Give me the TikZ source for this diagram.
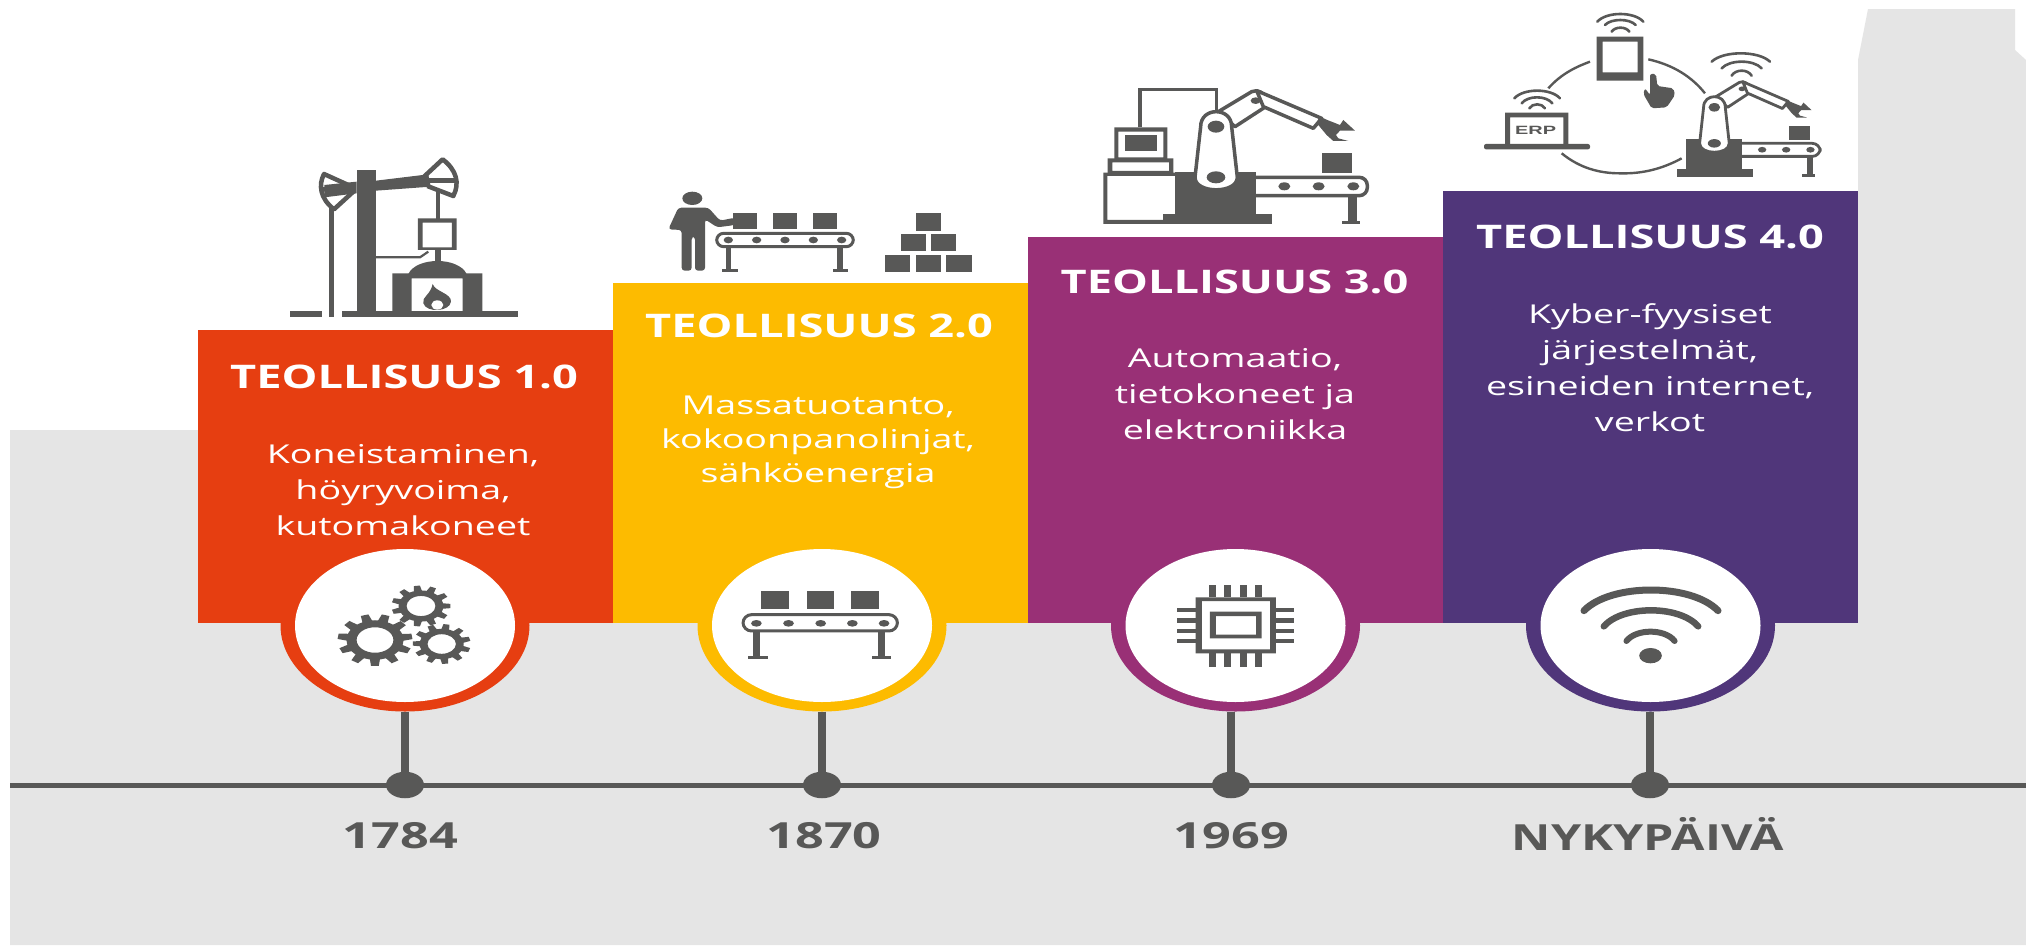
\documentclass[tikz,border=0pt]{standalone}
\usepackage{fontspec}
\setmainfont{Open Sans}
\newfontfamily\erpfont{Liberation Sans}
\usetikzlibrary{shapes.geometric}
\definecolor{ink}{HTML}{585857}
\definecolor{pale}{HTML}{E5E5E5}
\definecolor{cone}{HTML}{E63E11}
\definecolor{ctwo}{HTML}{FDBB00}
\definecolor{cthree}{HTML}{993076}
\definecolor{cfour}{HTML}{50367A}
\tikzset{
  title/.style={text=white,font=\fontsize{32.5}{36}\selectfont\bfseries,xscale=1.39,transform shape,inner sep=0pt},
  body/.style={text=white,font=\fontsize{26}{36}\selectfont,xscale=1.445,transform shape,align=center,inner sep=0pt},
  year/.style={text=ink,font=\fontsize{36}{40}\selectfont\bfseries,xscale=1.4,transform shape,inner sep=0pt},
  ring/.style={ellipse,minimum width=249pt,minimum height=172pt,inner sep=0pt},
  disc/.style={ellipse,fill=white,minimum width=220pt,minimum height=153pt,inner sep=0pt},
  dot/.style={ellipse,fill=ink,minimum width=38pt,minimum height=26.5pt,inner sep=0pt},
  stem/.style={draw=ink,line width=7.5pt},
  axis/.style={draw=ink,line width=5pt},
  wave/.style={draw=ink,line cap=round,fill=none},
}
% gear: centre, radii, teeth, start angle
\newcommand\gearicon[6]{%
  \begin{scope}[shift={(#1,#2)},x=#3pt,y=#4pt]
    \fill[ink,even odd rule] (0,0) circle[radius=.76] (0,0) circle[radius=.49];
    \foreach \i in {1,...,#5}{%
      \pgfmathsetmacro\ang{#6+360*\i/#5}%
      \fill[ink] ({\ang-11}:.72) -- ({\ang-6}:1) -- ({\ang+6}:1) -- ({\ang+11}:.72) -- cycle;
    }
  \end{scope}}
% arch of a signal: left x, right x, end y, top y, line width
\newcommand\signal[5]{\draw[wave,line width=#5] (#1,#3) .. controls ({#1+.2*(#2-#1)},{#3+1.3333*(#4-#3)}) and ({#2-.2*(#2-#1)},{#3+1.3333*(#4-#3)}) .. (#2,#3);}
% robot cell, drawn in the coordinates of the third icon
\newcommand\robotcell[1]{%
  \fill[ink] (285,305) rectangle (527,462);
  \fill[ink] (250,432) rectangle (575,462);
  \draw[ink,line width=#1,rounded corners=8pt] (527,322) -- (862,322) -- (862,377) -- (527,377);
  \foreach \x in {613,716,820}{\fill[ink] (\x,349) circle[x radius=18,y radius=12];}
  \fill[ink] (805,377) rectangle (830,458);
  \fill[ink] (785,453) rectangle (840,462);
  \fill[ink] (727,248) rectangle (817,308);
  \draw[ink,fill=white,line width=#1,line join=round] (415,125) -- (515,65) .. controls (535,58) and (550,62) .. (565,105) -- (465,170) -- cycle;
  \draw[ink,fill=white,line width=#1,line join=round] (530,62) -- (725,145) -- (700,175) -- (550,110) -- cycle;
  \fill[ink] (527,92) circle[x radius=15,y radius=10];
  \fill[ink] (720,140) -- (742,150) -- (780,165) -- (790,150) -- (825,182) -- (780,182) -- (768,195) -- (775,205) -- (805,213) -- (760,213) -- (740,195) -- (715,165) -- (698,178) -- cycle;
  \draw[ink,fill=white,line width=#1,line join=round] (362,170) .. controls (362,110) and (455,110) .. (455,170) -- (472,322) .. controls (472,372) and (345,372) .. (345,322) -- cycle;
  \fill[ink] (408,170) circle[x radius=25,y radius=18];
  \fill[ink] (408,322) circle[x radius=28,y radius=18];
}
\begin{document}
\begin{tikzpicture}[x=1pt,y=-1pt]
\useasboundingbox (0,0) rectangle (2026,945);
\fill[white] (0,0) rectangle (2026,945);
% backdrop
\fill[pale] (10,430) -- (1858,430) -- (1858,60) -- (1868,9) -- (2015,9) -- (2015,50) -- (2026,60) -- (2026,945) -- (10,945) -- cycle;
% columns
\fill[cone] (198,330) rectangle (613,623);
\fill[ctwo] (613,283) rectangle (1028,623);
\fill[cthree] (1028,237) rectangle (1443,623);
\fill[cfour] (1443,191) rectangle (1858,623);
% timeline
\coordinate (axisL) at (10,785);
\coordinate (axisR) at (2026,785);
\draw[axis] (axisL) -- (axisR);
% rings
\node[ring,fill=cone] (r1) at (405,625.5) {};
\node[ring,fill=ctwo] (r2) at (822,625.5) {};
\node[ring,fill=cthree] (r3) at (1235.5,625.5) {};
\node[ring,fill=cfour] (r4) at (1650.5,625.5) {};
% repaint the columns' lower band so only the lower half of each ring shows
\fill[cone] (198,540) rectangle (613,623);
\fill[ctwo] (613,540) rectangle (1028,623);
\fill[cthree] (1028,540) rectangle (1443,623);
\fill[cfour] (1443,540) rectangle (1858,623);
\node[disc] (c1) at (405,625.5) {};
\node[disc] (c2) at (822,625.5) {};
\node[disc] (c3) at (1235.5,625.5) {};
\node[disc] (c4) at (1650.5,625.5) {};
% dots and stems
\node[dot] (d1) at (405,785) {};
\node[dot] (d2) at (822,785) {};
\node[dot] (d3) at (1231,785) {};
\node[dot] (d4) at (1650,785) {};
\draw[stem] (d1 |- r1.south) -- (d1);
\draw[stem] (d2 |- r2.south) -- (d2);
\draw[stem] (d3 |- r3.south) -- (d3);
\draw[stem] (d4 |- r4.south) -- (d4);
% titles
\node[title] (t1) at (404,376.5) {TEOLLISUUS 1.0};
\node[title] (t2) at (819,325.5) {TEOLLISUUS 2.0};
\node[title] (t3) at (1234.5,281.5) {TEOLLISUUS 3.0};
\node[title] (t4) at (1650,236.5) {TEOLLISUUS 4.0};
% descriptions
\node[body] (b1) at (403,490) {Koneistaminen,\\höyryvoima,\\kutomakoneet};
\node[body,font=\fontsize{26}{34}\selectfont] (b2) at (818,442) {Massatuotanto,\\kokoonpanolinjat,\\sähköenergia};
\node[body] (b3) at (1235,394) {Automaatio,\\tietokoneet ja\\elektroniikka};
\node[body] (b4) at (1650,368) {Kyber-fyysiset\\järjestelmät,\\esineiden internet,\\verkot};
% years
\node[year] (y1) at (400.5,836) {1784};
\node[year] (y2) at (824,836) {1870};
\node[year] (y3) at (1231.5,836) {1969};
\node[year,xscale=0.96] (y4) at (1648,834) {NYKYPÄIVÄ};
% gears
\gearicon{375}{640}{37.5}{26}{11}{8}
\gearicon{421}{606}{29.5}{20.5}{11}{0}
\gearicon{441.7}{644}{29}{20}{11}{15}
% conveyor in circle 2
\begin{scope}[shift={(260,540)},x=0.4464pt,y=-0.3333pt]
  \foreach \x in {1123,1225,1325}{\fill[ink] (\x,153) rectangle (\x+61,208);}
  \draw[ink,line width=3pt,rounded corners=8.5pt] (1082,224) rectangle (1428,273);
  \foreach \x in {1112,1184,1256,1327,1398}{\fill[ink] (\x,250) circle[x radius=12,y radius=10];}
  \fill[ink] (1105,273) rectangle (1120,352);
  \fill[ink] (1385,273) rectangle (1400,352);
  \fill[ink] (1093,348) rectangle (1137,356);
  \fill[ink] (1372,348) rectangle (1414,356);
\end{scope}
% chip in circle 3
\begin{scope}[shift={(1080,540)},x=0.4719pt,y=-0.3333pt]
  \fill[ink,even odd rule] (245,172) rectangle (415,340) (258,183) rectangle (403,328);
  \fill[ink,even odd rule] (275,215) rectangle (385,295) (288,228) rectangle (373,284);
  \foreach \x in {273,306,339,371}{\fill[ink] (\x,135) rectangle (\x+15,172); \fill[ink] (\x,340) rectangle (\x+15,380);}
  \foreach \y in {204,235,266,297}{\fill[ink] (205,\y) rectangle (245,\y+13); \fill[ink] (415,\y) rectangle (453,\y+13);}
\end{scope}
% wifi in circle 4
\begin{scope}[shift={(1080,540)},x=0.4719pt,y=-0.3333pt]
  \signal{1068}{1352}{212}{150}{7pt}
  \signal{1110}{1310}{259}{211}{6.5pt}
  \signal{1158}{1260}{303}{275}{6pt}
  \fill[ink] (1209,347) circle[x radius=24,y radius=23];
\end{scope}
% icon 1: beam engine and furnace
\begin{scope}[shift={(190,140)},x=0.3333pt,y=-0.3333pt]
  \fill[ink] (300,514) rectangle (397,532);
  \fill[ink] (455,514) rectangle (985,532);
  \fill[ink] (418,205) rectangle (432,532);
  \fill[ink] (500,90) rectangle (558,520);
  \fill[ink] (403,135) -- (500,125) -- (500,160) -- (403,172) -- cycle;
  \fill[ink] (558,122) -- (715,103) -- (722,140) -- (558,152) -- cycle;
  \draw[ink,line width=4.5pt,line join=round] (475,135) -- (402,102) .. controls (385,135) and (390,175) .. (432,208) -- (490,155);
  \draw[ink,line width=4.5pt] (397,148) -- (480,145);
  \draw[ink,line width=4.5pt,line join=round] (700,112) -- (758,58) .. controls (800,90) and (810,130) .. (790,168) -- (712,138);
  \draw[ink,line width=4.5pt] (715,122) -- (803,122);
  \fill[ink] (738,150) rectangle (750,238);
  \fill[ink,even odd rule] (684,235) rectangle (800,330) (698,248) rectangle (786,322);
  \draw[ink,line width=2.2pt] (558,352) -- (690,352) -- (715,335);
  \fill[ink] (735,330) rectangle (752,370);
  \fill[ink] (655,402) .. controls (680,350) and (805,350) .. (830,402) -- cycle;
  \fill[ink,even odd rule] (607,400) rectangle (877,520) (665,415) rectangle (818,515);
  \fill[ink] (728,432) .. controls (735,455) and (785,460) .. (783,485) .. controls (780,515) and (710,520) .. (700,490) .. controls (695,470) and (722,465) .. (728,432) -- cycle;
  \fill[white] (742,495) circle[x radius=18,y radius=14];
\end{scope}
% icon 2: worker, conveyor, pile
\begin{scope}[shift={(640,170)},x=0.3333pt,y=-0.3333pt]
  \fill[ink] (157,85) circle[x radius=30,y radius=20];
  \fill[ink,rounded corners=3pt] (115,113) -- (205,113) -- (240,152) -- (285,143) -- (285,165) -- (232,172) -- (195,148) -- (195,302) -- (165,302) -- (165,200) -- (155,200) -- (155,302) -- (125,302) -- (125,180) -- (85,178) -- cycle;
  \foreach \x in {280,400,520}{\fill[ink] (\x,128) rectangle (\x+72,177);}
  \draw[ink,line width=3pt,rounded corners=7pt] (230,190) rectangle (640,230);
  \foreach \x in {265,350,435,520,605}{\fill[ink] (\x,210) circle[x radius=14,y radius=10];}
  \fill[ink] (258,230) rectangle (272,300);
  \fill[ink] (592,230) rectangle (608,300);
  \fill[ink] (245,297) rectangle (293,305);
  \fill[ink] (578,297) rectangle (625,305);
  \fill[ink] (828,130) rectangle (902,183);
  \fill[ink] (783,192) rectangle (857,243);
  \fill[ink] (873,192) rectangle (947,243);
  \fill[ink] (735,254) rectangle (810,305);
  \fill[ink] (828,254) rectangle (902,305);
  \fill[ink] (918,254) rectangle (995,305);
\end{scope}
% icon 3: robot cell with control cabinet
\begin{scope}[shift={(1080,70)},x=0.3333pt,y=-0.3333pt]
  \draw[ink,line width=3.5pt] (180,172) -- (180,58) -- (410,58) -- (410,130);
  \fill[ink,even odd rule] (103,172) rectangle (262,268) (115,185) rectangle (250,262);
  \fill[ink] (135,195) rectangle (230,242);
  \fill[ink,even odd rule] (83,265) rectangle (280,312) (97,277) rectangle (267,303);
  \fill[ink,even odd rule] (70,308) rectangle (290,462) (82,318) rectangle (290,450);
  \robotcell{3.5pt}
\end{scope}
% icon 4: connected devices
\begin{scope}[shift={(1470,0)},x=0.3333pt,y=-0.3333pt]
  \draw[ink,line width=2.4pt] (235,265) .. controls (275,220) and (320,200) .. (360,185);
  \draw[ink,line width=2.4pt] (535,178) .. controls (610,195) and (665,230) .. (705,280);
  \draw[ink,line width=2.4pt] (275,460) .. controls (330,505) and (390,520) .. (450,520) .. controls (520,522) and (580,505) .. (635,475);
  \signal{382}{520}{65}{42}{2.6pt}
  \signal{405}{497}{75}{60}{2.6pt}
  \signal{425}{478}{95}{83}{2.6pt}
  \signal{133}{270}{295}{272}{2.6pt}
  \signal{155}{247}{310}{292}{2.6pt}
  \signal{178}{225}{325}{313}{2.6pt}
  \signal{725}{900}{185}{160}{2.6pt}
  \signal{755}{875}{205}{185}{2.6pt}
  \signal{785}{845}{227}{212}{2.6pt}
  \fill[ink,even odd rule] (380,110) rectangle (520,242) (398,125) rectangle (503,217);
  \fill[ink,rounded corners=2pt] (540,222) -- (558,222) -- (562,258) -- (610,265) -- (615,285) -- (590,322) -- (545,325) -- (520,282) -- (525,265) -- (540,285) -- cycle;
  \fill[ink,even odd rule] (105,338) rectangle (295,434) (120,352) rectangle (280,434);
  \fill[ink,rounded corners=2pt] (42,432) rectangle (360,448);
  \node[text=ink,font=\erpfont\bfseries\fontsize{12}{14}\selectfont,xscale=1.66,transform shape,inner sep=0pt] (erp) at (197,392) {ERP};
  \begin{scope}[shift={(733,322)},x=0.2333pt,y=-0.2370pt,shift={(-408,-170)}]
    \robotcell{2.8pt}
  \end{scope}
\end{scope}
\end{tikzpicture}
\end{document}
